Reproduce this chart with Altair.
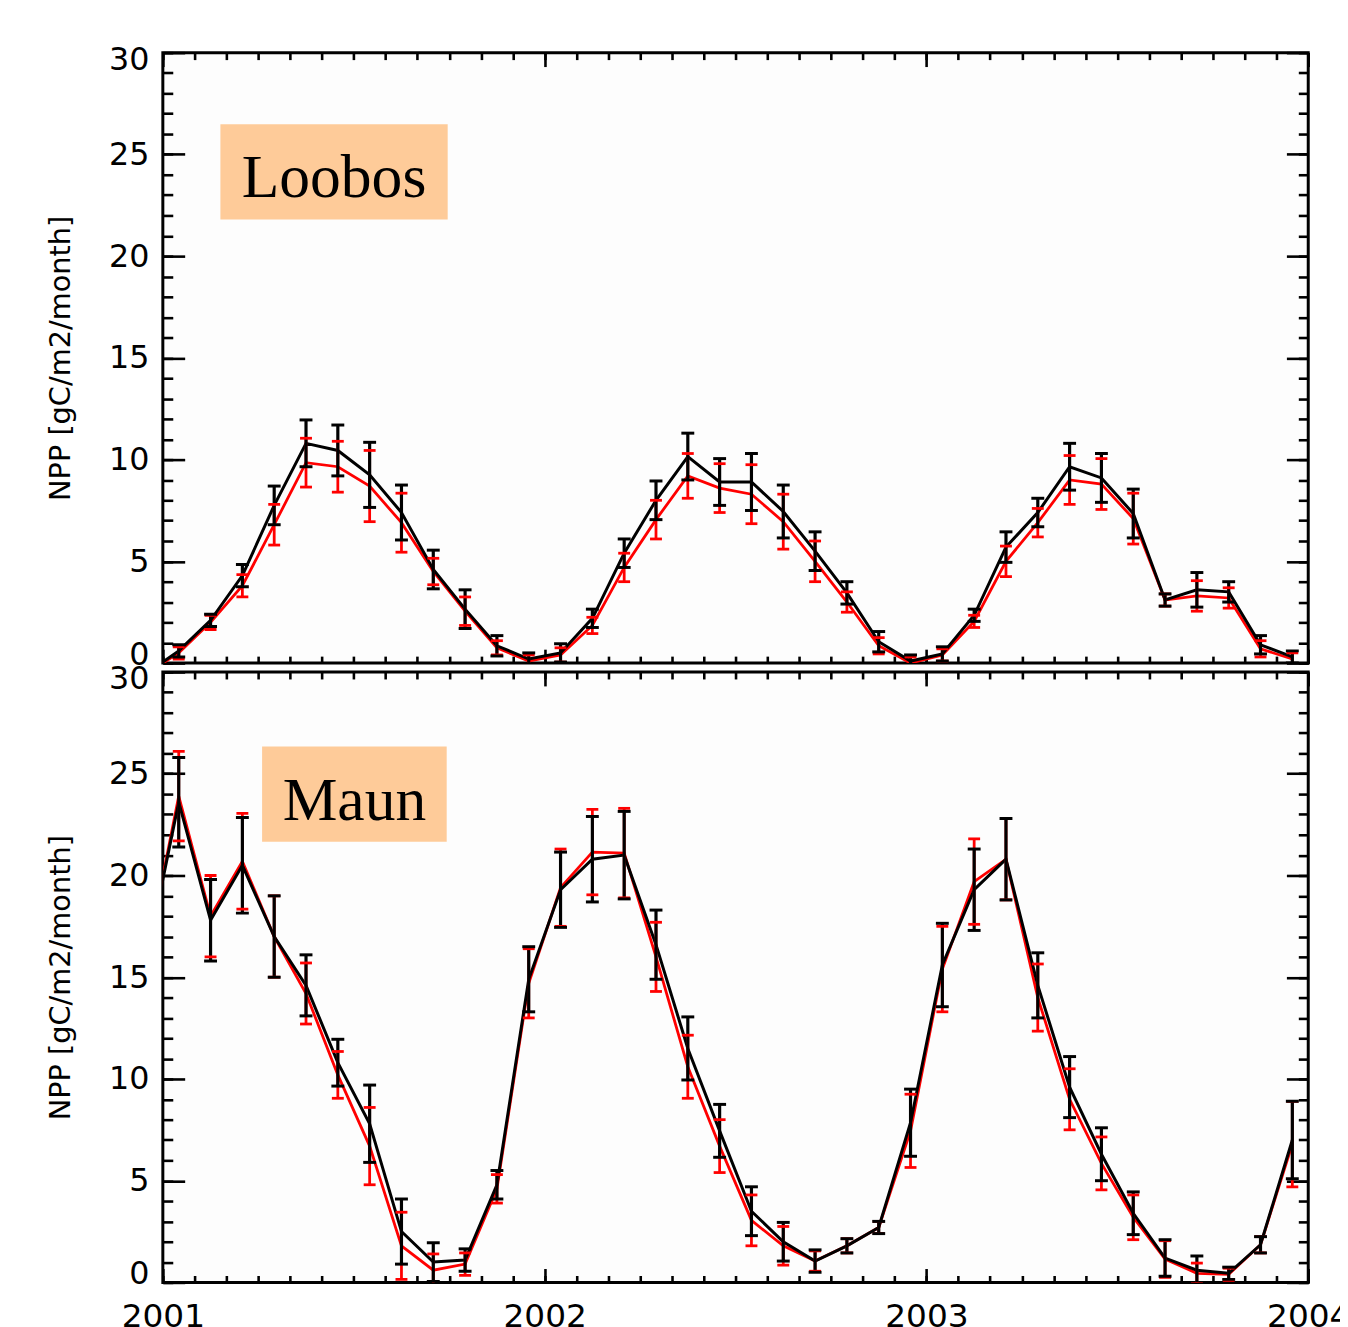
import altair as alt
import pandas as pd

# ---------------- data ----------------
n_months = 36
month_mid = [2001 + (i + 0.5) / 12 for i in range(n_months)]
lead_x = 2000 + 11.5 / 12          # Dec 2000 (line enters from the left edge)
year_ticks = [2001, 2002, 2003, 2004]
month_ticks = [2001 + k / 12 for k in range(37)]
y_major = [0, 5, 10, 15, 20, 25, 30]
y_minor = list(range(0, 31))

# Loobos
loobos_black = [0.6, 2.1, 4.3, 7.75, 10.8, 10.45, 9.25, 7.4, 4.6, 2.65, 0.85, 0.2,
                0.5, 2.2, 5.4, 8.0, 10.15, 8.9, 8.9, 7.45, 5.5, 3.45, 1.05, 0.1,
                0.45, 2.35, 5.7, 7.4, 9.65, 9.1, 7.35, 3.1, 3.6, 3.5, 0.9, 0.3]
loobos_black_err = [0.3, 0.3, 0.55, 0.95, 1.15, 1.25, 1.6, 1.35, 0.95, 0.95, 0.5, 0.3,
                    0.45, 0.45, 0.7, 0.95, 1.15, 1.15, 1.4, 1.3, 0.95, 0.55, 0.5, 0.3,
                    0.35, 0.3, 0.75, 0.7, 1.15, 1.2, 1.2, 0.3, 0.85, 0.5, 0.45, 0.3]
loobos_red = [0.5, 2.0, 3.8, 6.8, 9.85, 9.65, 8.7, 6.9, 4.5, 2.55, 0.75, 0.1,
              0.4, 1.85, 4.7, 7.05, 9.2, 8.6, 8.3, 6.95, 5.0, 3.0, 0.85, 0.0,
              0.4, 2.05, 5.0, 6.9, 9.0, 8.8, 7.1, 3.1, 3.3, 3.2, 0.7, 0.2]
loobos_red_err = [0.3, 0.35, 0.55, 1.0, 1.2, 1.25, 1.75, 1.45, 0.65, 0.7, 0.35, 0.3,
                  0.35, 0.4, 0.7, 0.95, 1.1, 1.2, 1.45, 1.35, 1.0, 0.5, 0.4, 0.3,
                  0.3, 0.3, 0.75, 0.7, 1.2, 1.25, 1.25, 0.3, 0.75, 0.5, 0.4, 0.3]
loobos_lead = -0.5

# Maun
maun_black = [23.6, 17.8, 20.5, 17.0, 14.6, 10.8, 7.8, 2.5, 1.0, 1.1, 4.8, 14.9,
              19.3, 20.8, 21.0, 16.6, 11.5, 7.45, 3.5, 2.0, 1.05, 1.8, 2.7, 7.85,
              15.6, 19.3, 20.8, 14.6, 9.6, 6.3, 3.4, 1.2, 0.6, 0.45, 1.85, 7.0]
maun_black_err = [2.2, 2.0, 2.35, 2.0, 1.5, 1.15, 1.9, 1.6, 0.95, 0.55, 0.7, 1.6,
                  1.85, 2.1, 2.15, 1.7, 1.55, 1.3, 1.2, 0.95, 0.55, 0.35, 0.3, 1.65,
                  2.05, 2.0, 2.0, 1.6, 1.5, 1.3, 1.05, 0.9, 0.7, 0.3, 0.4, 1.9]
maun_red = [23.9, 18.0, 20.7, 17.0, 14.2, 10.2, 6.7, 1.8, 0.6, 0.9, 4.6, 14.7,
            19.4, 21.15, 21.1, 16.0, 10.6, 6.7, 3.05, 1.8, 1.05, 1.8, 2.7, 7.45,
            15.4, 19.7, 20.8, 14.0, 9.0, 5.85, 3.2, 1.15, 0.45, 0.4, 1.85, 6.8]
maun_red_err = [2.2, 2.0, 2.35, 2.0, 1.5, 1.15, 1.9, 1.65, 0.8, 0.55, 0.7, 1.7,
                1.9, 2.1, 2.2, 1.7, 1.55, 1.3, 1.25, 0.95, 0.5, 0.35, 0.3, 1.8,
                2.1, 2.1, 2.0, 1.65, 1.5, 1.3, 1.1, 0.9, 0.5, 0.3, 0.4, 2.1]
maun_lead = 16.0

W = 1154
H = 615
FONT = "DejaVu Sans"
BOX = "#fecb99"


def line_df(vals, lead):
    return pd.DataFrame({"x": [lead_x] + month_mid, "y": [lead] + vals})


def bar_df(vals, err):
    return pd.DataFrame({"x": month_mid,
                         "lo": [v - e for v, e in zip(vals, err)],
                         "hi": [v + e for v, e in zip(vals, err)]})


def cap_df(vals, err):
    lo = [v - e for v, e in zip(vals, err)]
    hi = [v + e for v, e in zip(vals, err)]
    return pd.DataFrame({"x": month_mid + month_mid, "y": lo + hi})


def ax(orient, values, tick, offset=0, labels=False, **kw):
    d = dict(orient=orient, values=values, grid=False, domain=False, title=None,
             labels=labels, tickColor="black", tickWidth=2.6)
    if tick > 0:
        d["ticks"] = True
        d["tickSize"] = tick
    else:
        d["ticks"] = False
    if offset:
        d["offset"] = offset
    d.update(kw)
    return alt.Axis(**d)


def panel(name, black, black_err, red, red_err, lead, box, show_x):
    xs = alt.Scale(domain=[2001, 2004], nice=False, zero=False)
    ys = alt.Scale(domain=[0, 30], nice=False, zero=False)

    ax_x_lab = ax("bottom", year_ticks, 0, labels=show_x, format="d", labelFlush=False,
                  labelOverlap=False, labelFontSize=33, labelPadding=18, labelColor="black",
                  labelFont=FONT)
    ax_x_bmaj = ax("top", year_ticks, 14, offset=-H)
    ax_x_bmin = ax("top", month_ticks, 7, offset=-H)
    ax_x_tmaj = ax("bottom", year_ticks, 14, offset=-H)
    ax_x_tmin = ax("bottom", month_ticks, 7, offset=-H)

    ax_y_lab = alt.Axis(orient="left", values=y_major, grid=False, domain=False, ticks=False,
                        labelFlush=True, labelFlushOffset=8, labelOverlap=False,
                        labelFontSize=32, labelPadding=14,
                        labelColor="black", labelFont=FONT,
                        title="NPP [gC/m2/month]", titleFontSize=29, titleFont=FONT,
                        titleFontWeight="normal", titleColor="black", titlePadding=33)
    ax_y_lmaj = ax("right", y_major, 22, offset=-W)
    ax_y_lmin = ax("right", y_minor, 10, offset=-W)
    ax_y_rmaj = ax("left", y_major, 22, offset=-W)
    ax_y_rmin = ax("left", y_minor, 10, offset=-W)

    red_line = alt.Chart(line_df(red, lead)).mark_line(color="#ff0000", strokeWidth=2.8, clip=True).encode(
        x=alt.X("x:Q", scale=xs, axis=ax_x_lab),
        y=alt.Y("y:Q", scale=ys, axis=ax_y_lab))
    black_line = alt.Chart(line_df(black, lead)).mark_line(color="black", strokeWidth=3, clip=True).encode(
        x=alt.X("x:Q", scale=xs, axis=ax_x_bmaj),
        y=alt.Y("y:Q", scale=ys, axis=ax_y_lmaj))
    red_bar = alt.Chart(bar_df(red, red_err)).mark_rule(color="#ff0000", strokeWidth=2.8, clip=True).encode(
        x=alt.X("x:Q", scale=xs, axis=ax_x_bmin),
        y=alt.Y("lo:Q", scale=ys, axis=ax_y_lmin), y2="hi:Q")
    black_bar = alt.Chart(bar_df(black, black_err)).mark_rule(color="black", strokeWidth=3.2, clip=True).encode(
        x=alt.X("x:Q", scale=xs, axis=ax_x_tmaj),
        y=alt.Y("lo:Q", scale=ys, axis=ax_y_rmaj), y2="hi:Q")
    red_cap = alt.Chart(cap_df(red, red_err)).mark_tick(color="#ff0000", orient="horizontal", size=12,
                                                      thickness=2.8, clip=True, opacity=1).encode(
        x=alt.X("x:Q", scale=xs, axis=ax_x_tmin),
        y=alt.Y("y:Q", scale=ys, axis=ax_y_rmin))
    black_cap = alt.Chart(cap_df(black, black_err)).mark_tick(color="black", orient="horizontal", size=13,
                                                            thickness=3, clip=True, opacity=1).encode(
        x=alt.X("x:Q", scale=xs, axis=None),
        y=alt.Y("y:Q", scale=ys, axis=None))

    bx0, bx1, by0, by1, tx, ty = box
    one = alt.Data(values=[{"label": name}])
    rect = alt.Chart(one).mark_rect(color=BOX).encode(
        x=alt.value(bx0), x2=alt.value(bx1), y=alt.value(by0), y2=alt.value(by1))
    text = alt.Chart(one).mark_text(font="Liberation Serif", fontSize=62, color="black",
                                    align="center", baseline="alphabetic").encode(
        x=alt.value(tx), y=alt.value(ty), text="label:N")

    return alt.layer(red_line, black_line, red_bar, black_bar, red_cap, black_cap, rect, text).resolve_axis(
        x="independent", y="independent").properties(width=W, height=H)


top = panel("Loobos", loobos_black, loobos_black_err, loobos_red, loobos_red_err, loobos_lead,
            (58, 287, 72, 168, 172.5, 145), False)
bottom = panel("Maun", maun_black, maun_black_err, maun_red, maun_red_err, maun_lead,
               (100, 286, 75, 171, 193, 149), True)

chart = alt.vconcat(top, bottom, spacing=-12).properties(
    padding={"left": 37, "top": 29, "right": -12, "bottom": 0},
    background="white",
).configure_view(stroke="black", strokeWidth=3, fill="#fdfdfd")

chart.save("out.html", embed_options={"renderer": "svg", "actions": False})
